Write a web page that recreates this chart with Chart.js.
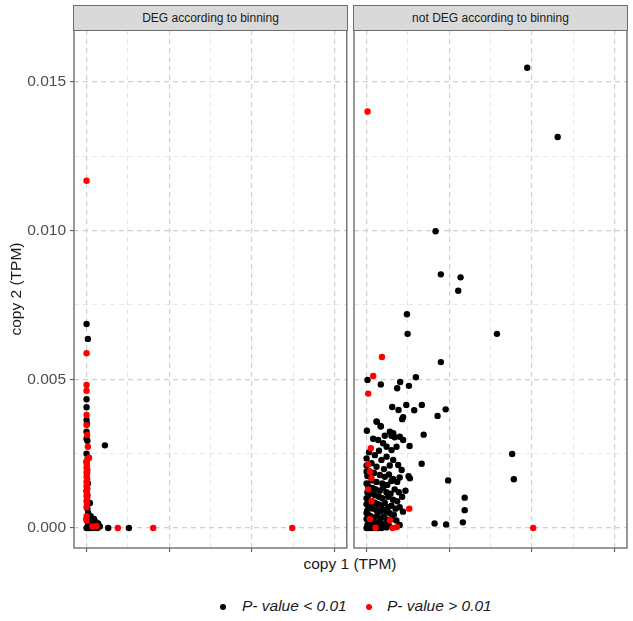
<!DOCTYPE html>
<html>
<head>
<meta charset="utf-8">
<script src="https://cdn.jsdelivr.net/npm/chart.js@4.4.1/dist/chart.umd.min.js"></script>
<style>
  body { margin: 0; background: #fff; width: 633px; height: 621px; position: relative; overflow: hidden;
         font-family: "Liberation Sans", Arial, sans-serif; }
  .box { position: absolute; top: 0; }
  .strip { position: absolute; top: 5px; height: 26px; background: #d9d9d9; border: 1px solid #6e6e6e;
           box-sizing: border-box; font-size: 12px; color: #1a1a1a; text-align: center; line-height: 24px; }
  .xtitle { position: absolute; top: 555px; left: 0; width: 700px; text-align: center; font-size: 15.5px; color: #1a1a1a; }
  .legend { position: absolute; top: 597px; left: 0; width: 633px; font-size: 15.5px; font-style: italic; color: #1a1a1a; }
  .legend span { position: absolute; white-space: nowrap; }
  .dot { width: 6px; height: 6px; border-radius: 50%; top: 7px; }
</style>
</head>
<body>

<div class="box" style="left:0"><canvas id="left" width="350" height="552"></canvas></div>
<div class="box" style="left:350px"><canvas id="right" width="283" height="552"></canvas></div>
<div class="strip" style="left:73px;width:275px">DEG according to binning</div>
<div class="strip" style="left:353px;width:275px">not DEG according to binning</div>
<div class="xtitle">copy 1 (TPM)</div>
<div class="legend">
  <span class="dot" style="left:220px;background:#000"></span><span style="left:242px">P- value &lt; 0.01</span>
  <span class="dot" style="left:366px;background:#ff0000"></span><span style="left:387px">P- value &gt; 0.01</span>
</div>

<script>
// values in thousandths of TPM: [copy 1, copy 2]
var UNIT = 0.001;
var panels = ['DEG according to binning', 'not DEG according to binning'];
var groups = ['P- value < 0.01', 'P- value > 0.01'];

var degLow = [
  [0, 6.86], [0.08, 6.36], [0, 4.33], [0, 4.06], [0, 3.63], [0.02, 3.5], [0, 3.24], [0, 3.0],
  [0.05, 2.93], [1.11, 2.78], [0, 2.5], [0, 2.23], [0.03, 1.85], [0.08, 1.5], [0, 1.25], [0.05, 1.1],
  [0.2, 0.84], [0.05, 0.65], [0.1, 0.5], [0.25, 0.4], [0, 0.3], [0.45, 0.3], [0.35, 0.25], [0.15, 0.2],
  [0.55, 0.2], [0.7, 0.15], [0.3, 0.15], [0.1, 0.12], [0.4, 0.1], [0.6, 0.08], [0.3, 0.05], [0.8, 0.05],
  [0.5, 0.03], [0.2, 0.02], [0, 0], [0.1, 0], [0.25, 0], [0.45, 0], [0.65, 0], [1.31, 0], [2.56, 0]
];
var degHigh = [
  [0, 11.68], [0, 5.88], [0, 4.81], [0, 4.62], [0, 3.8], [0, 3.46], [0.03, 3.13], [0.08, 2.73],
  [0.15, 2.36], [0.05, 2.31], [0, 2.2], [0.02, 2.12], [0, 2.03], [0.05, 1.95], [0, 1.88], [0.02, 1.8],
  [0, 1.72], [0.04, 1.64], [0, 1.56], [0.02, 1.48], [0, 1.4], [0.05, 1.32], [0, 1.24], [0.02, 1.16],
  [0, 1.08], [0.04, 1.0], [0, 0.92], [0.02, 0.84], [0, 0.7], [0, 0.4], [0, 0.25], [0.6, 0.07],
  [0.35, 0.05], [1.89, 0], [4.03, 0], [12.44, 0]
];
var notDegLow = [
  [9.71, 15.48], [11.55, 13.15], [4.17, 9.98], [4.49, 8.53], [5.68, 8.43], [5.54, 7.98], [2.44, 7.19],
  [2.48, 6.53], [7.88, 6.53], [4.49, 5.58], [0.06, 4.98], [0.86, 4.83], [2.03, 4.91], [1.85, 4.7],
  [2.56, 4.78], [2.98, 5.07], [1.55, 4.07], [1.93, 3.97], [2.4, 4.14], [2.88, 3.96], [3.34, 4.14],
  [2.21, 3.73], [2.15, 3.66], [4.29, 3.77], [4.78, 3.99], [0.02, 3.27], [0.62, 3.57], [0.85, 3.43],
  [3.45, 3.14], [2.6, 2.76], [8.8, 2.49], [3.33, 2.16], [4.93, 1.6], [8.9, 1.64], [2.54, 1.74],
  [5.93, 1.02], [5.93, 0.6], [5.82, 0.19], [4.11, 0.15], [4.81, 0.12],
  [0.6, 3.58], [0.86, 3.41], [1.41, 3.24], [1.61, 3.19], [2.01, 3.07], [2.21, 2.96], [0.7, 2.96],
  [1.0, 2.85], [1.21, 2.73], [1.51, 2.62], [1.81, 2.73], [1.1, 3.1], [0.4, 3.0], [1.5, 3.1], [1.7, 3.05],
  [0, 2.34], [0.3, 2.18], [0.6, 2.06], [0.9, 2.29], [1.21, 2.4], [1.61, 2.29], [1.91, 2.12], [2.12, 1.95],
  [0.5, 2.45], [1.4, 2.1], [0.15, 2.55], [1.05, 1.98], [0.75, 2.6], [2.62, 1.67], [0.2, 1.9],
  [0.45, 1.85], [0.8, 1.78], [1.1, 1.72], [1.35, 1.8], [1.6, 1.65], [1.85, 1.55], [0.3, 1.6], [0.6, 1.55],
  [0.95, 1.5], [1.25, 1.45], [1.5, 1.58], [0.05, 1.75], [2.0, 1.7], [0.1, 1.4], [0.35, 1.35], [0.55, 1.3],
  [0.8, 1.25], [1.0, 1.35], [1.2, 1.2], [1.45, 1.15], [1.7, 1.3], [1.95, 1.2], [2.15, 1.05], [0.25, 1.15],
  [0.5, 1.1], [0.75, 1.05], [0.95, 1.0], [1.3, 1.05], [1.6, 0.95], [0.05, 1.2], [2.35, 1.25], [1.85, 0.9],
  [0.1, 0.95], [0.3, 0.9], [0.5, 0.85], [0.7, 0.8], [0.9, 0.75], [1.1, 0.85], [1.3, 0.7], [1.5, 0.75],
  [1.75, 0.65], [2.0, 0.7], [0.2, 0.7], [0.4, 0.65], [0.6, 0.6], [0.8, 0.55], [1.0, 0.6], [1.2, 0.55],
  [1.4, 0.5], [0.05, 0.6], [2.2, 0.55], [1.65, 0.45], [0.1, 0.45], [0.25, 0.4], [0.45, 0.35], [0.65, 0.42],
  [0.85, 0.3], [1.05, 0.38], [1.25, 0.28], [1.5, 0.3], [1.8, 0.25], [0.15, 0.25], [0.35, 0.2], [0.55, 0.15],
  [0.75, 0.2], [0.95, 0.12], [1.15, 0.15], [1.35, 0.08], [0.05, 0.1], [0.2, 0.05], [0.4, 0.03], [0.6, 0.06],
  [0.8, 0.02], [1.0, 0.04], [0, 0], [0.1, 0], [0.3, 0], [0.5, 0.01], [0.7, 0], [0.9, 0], [1.2, 0.02],
  [2.0, 0.1], [0, 0.3], [0, 0.5], [0, 0.8], [0, 1.0], [0, 1.5], [0, 1.9], [0, 2.1]
];
var notDegHigh = [
  [0.06, 14.01], [0.93, 5.75], [0.4, 5.11], [0.1, 4.52], [0.26, 2.68], [0.1, 2.14], [0.2, 1.89],
  [0.3, 1.67], [0.1, 1.3], [0.3, 0.9], [0.2, 0.3], [2.58, 0.65], [1.41, 0.26], [1.57, 0], [1.83, 0.03],
  [0.54, 0.01], [10.07, 0]
];

var xTicks = [0, 5, 10, 15];
var yTicks = [0, 5, 10, 15];
var xRange = [-0.76, 15.74];
var yRange = [-0.673, 16.749];

function withMinor(t) {
  var out = [];
  t.forEach(function (v, i) {
    out.push(v);
    if (i < t.length - 1) out.push((v + t[i + 1]) / 2);
  });
  return out;
}

function toPoints(arr) {
  return arr.map(function (p) { return { x: p[0] * UNIT, y: p[1] * UNIT }; });
}

// frame round the panel, like ggplot's panel.border
var panelFrame = {
  id: 'panelFrame',
  afterDraw: function (chart) {
    var a = chart.chartArea, ctx = chart.ctx;
    ctx.save();
    ctx.strokeStyle = '#6e6e6e';
    ctx.lineWidth = 1.4;
    ctx.strokeRect(a.left, a.top, a.right - a.left, a.bottom - a.top);
    ctx.restore();
  }
};

function axis(ticks, range, opts) {
  var all = withMinor(ticks);
  return Object.assign({
    type: 'linear',
    min: range[0] * UNIT,
    max: range[1] * UNIT,
    afterBuildTicks: function (s) { s.ticks = all.map(function (v) { return { value: v * UNIT }; }); },
    border: { display: false, dash: [5, 4] },
    grid: {
      color: function (c) { return c.index % 2 === 0 ? '#d0d0d0' : '#e2e2e2'; },
      lineWidth: function (c) { return c.index % 2 === 0 ? 1.2 : 0.8; },
      tickColor: function (c) { return c.index % 2 === 0 ? '#4d4d4d' : 'rgba(0,0,0,0)'; },
      tickLength: 4,
      tickWidth: 1
    }
  }, opts);
}

function makePanel(id, low, high, showY) {
  var yOpts = {
    ticks: {
      display: showY,
      padding: 4,
      color: '#4d4d4d',
      font: { family: '"Liberation Sans", Arial, sans-serif', size: 15.5 },
      callback: function (v, i) { return i % 2 === 0 ? (v).toFixed(3) : ''; }
    },
    title: {
      display: showY,
      text: 'copy 2 (TPM)',
      color: '#1a1a1a',
      font: { family: '"Liberation Sans", Arial, sans-serif', size: 15.5 },
      padding: { top: 7, bottom: 0 }
    },
    afterFit: function (s) {
      s.width = showY ? 74 : 0;
      // keep the tick labels from shrinking the panel
      s.paddingTop = 0;
      s.paddingBottom = 0;
    }
  };
  var y = axis(yTicks, yRange, yOpts);
  if (!showY) y.grid.drawTicks = false;

  var x = axis(xTicks, xRange, {
    ticks: { display: false },
    afterFit: function (s) { s.height = 4; s.paddingLeft = 0; s.paddingRight = 0; }
  });

  return new Chart(document.getElementById(id), {
    type: 'scatter',
    data: {
      datasets: [
        { label: groups[1], data: toPoints(high), backgroundColor: '#ff0000', order: 0 },
        { label: groups[0], data: toPoints(low), backgroundColor: '#000000', order: 1 }
      ]
    },
    options: {
      responsive: false,
      animation: false,
      devicePixelRatio: 1,
      layout: { padding: showY ? { top: 30, right: 3, left: 0, bottom: 0 } : { top: 30, right: 6, left: 4, bottom: 0 } },
      elements: { point: { radius: 3.2, hoverRadius: 3.2, borderWidth: 0 } },
      plugins: { legend: { display: false }, tooltip: { enabled: false } },
      scales: { x: x, y: y }
    },
    plugins: [panelFrame]
  });
}

makePanel('left', degLow, degHigh, true);
makePanel('right', notDegLow, notDegHigh, false);
</script>
</body>
</html>
